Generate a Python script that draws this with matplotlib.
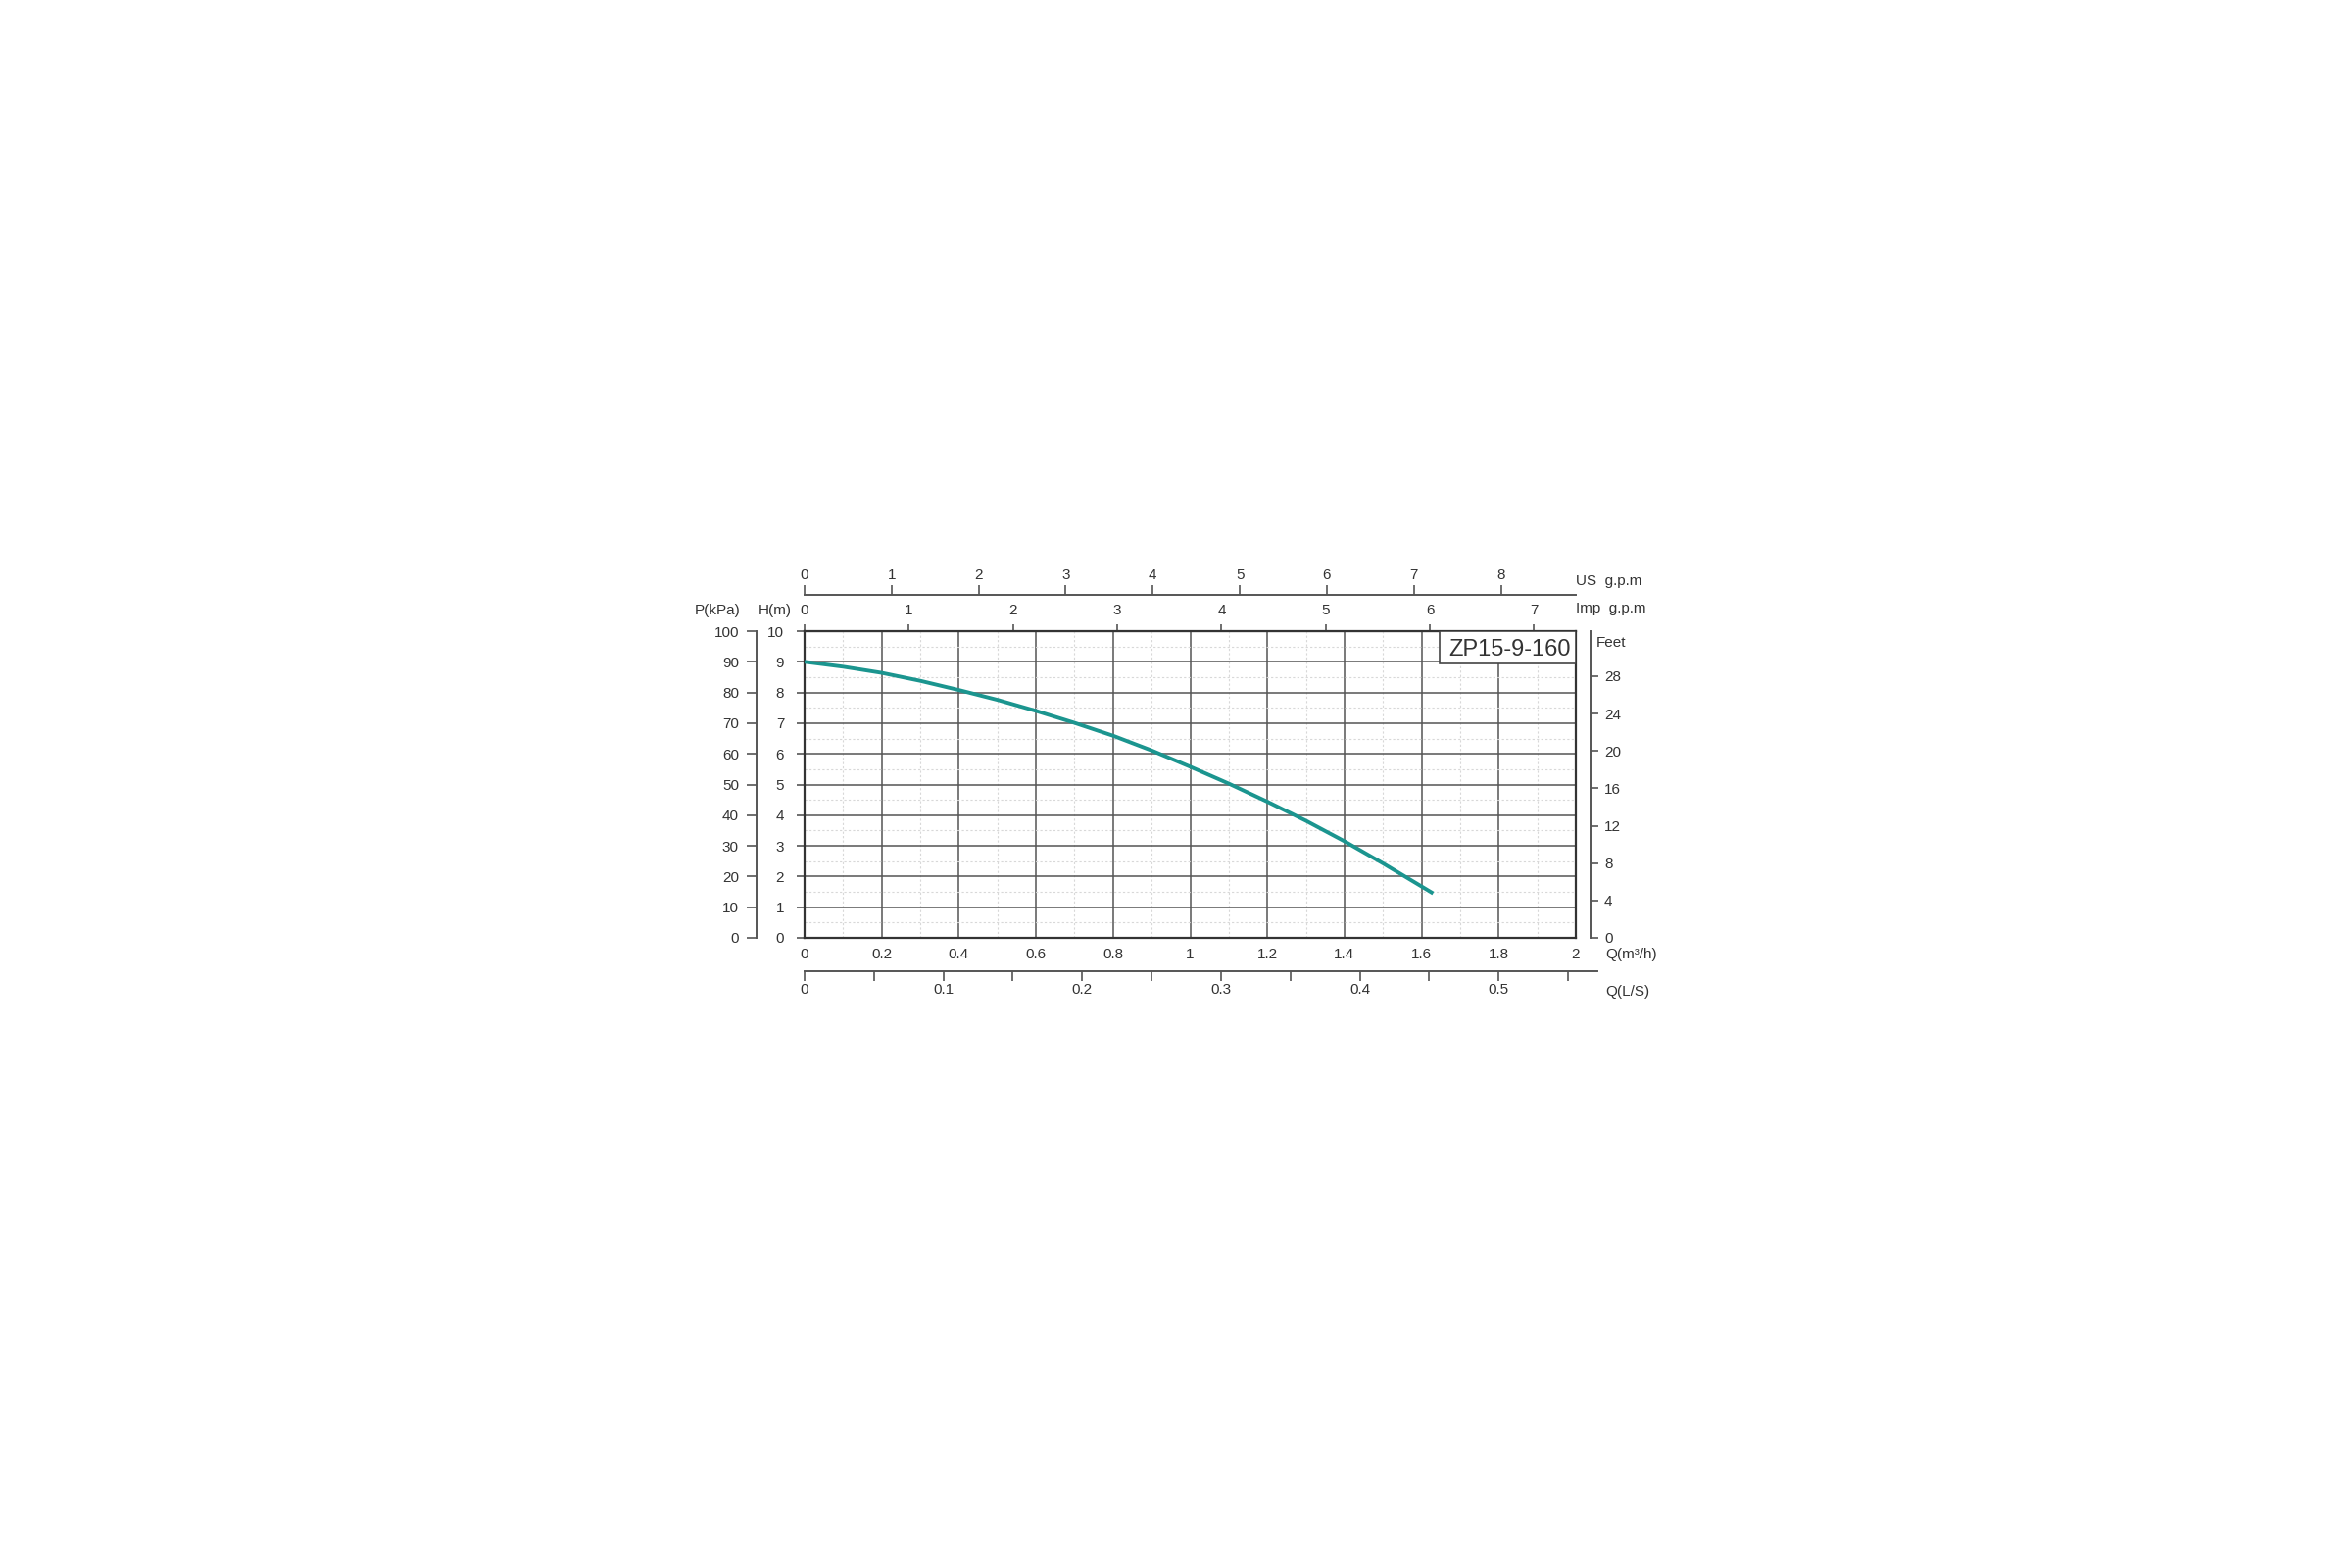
import matplotlib.pyplot as plt
from matplotlib.patches import Rectangle

plt.rcParams['font.family'] = ['Liberation Sans', 'DejaVu Sans']

# 곡선 값
q_m3h = [0, 0.1, 0.2, 0.3, 0.4, 0.5, 0.6, 0.7, 0.8, 0.9, 1.0, 1.1, 1.2, 1.3, 1.4, 1.5, 1.63]
head_m = [9.0, 8.84, 8.64, 8.38, 8.08, 7.76, 7.40, 7.01, 6.59, 6.11, 5.58, 5.03, 4.44, 3.82, 3.15, 2.43, 1.45]

# 축 눈금
q_ticks = [0, 0.2, 0.4, 0.6, 0.8, 1.0, 1.2, 1.4, 1.6, 1.8, 2.0]
q_labels = ['0', '0.2', '0.4', '0.6', '0.8', '1', '1.2', '1.4', '1.6', '1.8', '2']
h_ticks = list(range(0, 11))
p_ticks = list(range(0, 101, 10))
ft_ticks = list(range(0, 29, 4))
us_ticks = list(range(0, 9))
imp_ticks = list(range(0, 8))
ls_major = [0, 0.1, 0.2, 0.3, 0.4, 0.5]
ls_labels = ['0', '0.1', '0.2', '0.3', '0.4', '0.5']
ls_minor = [0.05, 0.15, 0.25, 0.35, 0.45, 0.55]

# 단위 환산 (그림의 눈금 위치에 맞춤)
US = 4.43     # US gpm per m3/h
IMP = 3.70    # Imp gpm per m3/h
FT = 3.28084  # feet per m
LS = 1 / 3.6  # L/s per m3/h

model = 'ZP15-9-160'
txt = '#333333'
line_c = '#555555'
fs = 11

W, H = 2400, 1600
def fx(px):
    return px / W
def fy(py):
    return 1 - py / H

fig = plt.figure(figsize=(24, 16), dpi=100)
fig.patch.set_facecolor('white')

# 메인 축 (H-Q)
ax = fig.add_axes([fx(821), fy(957), (1608 - 821) / W, (957 - 644) / H])
ax.set_xlim(0, 2)
ax.set_ylim(0, 10)
ax.set_xticks(q_ticks)
ax.set_xticklabels(q_labels)
ax.set_yticks(h_ticks)
ax.set_xticks([x / 10 for x in range(1, 20, 2)], minor=True)
ax.set_yticks([y + 0.5 for y in range(10)], minor=True)
ax.grid(which='major', color='#555555', lw=1.1)
ax.grid(which='minor', color='#d8d8d8', lw=0.8, ls=(0, (2, 2)))
ax.set_axisbelow(True)
ax.tick_params(axis='x', which='both', length=0, pad=7, labelsize=fs, labelcolor=txt)
ax.tick_params(axis='y', which='major', direction='out', length=6, width=1.2,
               color=line_c, pad=9, labelsize=fs, labelcolor=txt)
ax.tick_params(axis='y', which='minor', length=0)
for s in ax.spines.values():
    s.set_color('#333333')
    s.set_linewidth(1.6)

ax.plot(q_m3h, head_m, color='#1b958f', lw=2.8, zorder=3, solid_capstyle='butt')

# 모델명 박스
ax.add_patch(Rectangle((0.8234, 0.8946), 0.1766, 0.1054, transform=ax.transAxes,
                       facecolor='white', edgecolor='#444444', lw=1.2, zorder=4))
ax.text(0.9136, 0.938, model, transform=ax.transAxes, ha='center', va='center',
        fontsize=17, color=txt, zorder=5)

# Imp g.p.m (위쪽)
sec_imp = ax.secondary_xaxis('top', functions=(lambda q: q * IMP, lambda g: g / IMP))
sec_imp.set_xticks(imp_ticks)
sec_imp.tick_params(direction='out', length=5, width=1.2, color=line_c, pad=5,
                    labelsize=fs, labelcolor=txt)

# US g.p.m (더 위쪽)
sec_us = ax.secondary_xaxis(1 + 37 / 313, functions=(lambda q: q * US, lambda g: g / US))
sec_us.set_xticks(us_ticks)
sec_us.tick_params(direction='out', length=7, width=1.2, color=line_c, pad=2,
                   labelsize=fs, labelcolor=txt)
for s in sec_us.spines.values():
    s.set_color(line_c)
    s.set_linewidth(1.4)

# P(kPa) (왼쪽 바깥)
sec_p = ax.secondary_yaxis(-49 / 787, functions=(lambda h: h * 10, lambda p: p / 10))
sec_p.set_yticks(p_ticks)
sec_p.tick_params(direction='out', length=7, width=1.2, color=line_c, pad=6,
                  labelsize=fs, labelcolor=txt)
for s in sec_p.spines.values():
    s.set_color(line_c)
    s.set_linewidth(1.4)

# Feet (오른쪽)
sec_ft = ax.secondary_yaxis(1 + 15 / 787, functions=(lambda h: h * FT, lambda f: f / FT))
sec_ft.set_yticks(ft_ticks)
sec_ft.tick_params(direction='out', length=6, width=1.2, color=line_c, pad=4,
                   labelsize=fs, labelcolor=txt)
for s in sec_ft.spines.values():
    s.set_color(line_c)
    s.set_linewidth(1.4)

# Q(L/S) (아래쪽, 따로 그린 축)
axl = fig.add_axes([fx(821), fy(991), (1630 - 821) / W, 0.0001])
axl.set_xlim(0, (1630 - 821) / 787 * 2 * LS)
axl.set_yticks([])
axl.set_xticks(ls_major)
axl.set_xticklabels(ls_labels)
axl.set_xticks(ls_minor, minor=True)
axl.tick_params(axis='x', which='both', direction='out', length=7, width=1.2,
                color=line_c, pad=2, labelsize=fs, labelcolor=txt)
for k in ['top', 'left', 'right']:
    axl.spines[k].set_visible(False)
axl.spines['bottom'].set_color(line_c)
axl.spines['bottom'].set_linewidth(1.4)
axl.patch.set_visible(False)

# 축 이름
fig.text(fx(732), fy(623), 'P(kPa)', ha='center', va='center', fontsize=fs, color=txt)
fig.text(fx(791), fy(623), 'H(m)', ha='center', va='center', fontsize=fs, color=txt)
fig.text(fx(1608), fy(593), 'US  g.p.m', ha='left', va='center', fontsize=fs, color=txt)
fig.text(fx(1608), fy(621), 'Imp  g.p.m', ha='left', va='center', fontsize=fs, color=txt)
fig.text(fx(1629), fy(656), 'Feet', ha='left', va='center', fontsize=fs, color=txt)
fig.text(fx(1638), fy(974), 'Q(m³/h)', ha='left', va='center', fontsize=fs, color=txt)
fig.text(fx(1638), fy(1012), 'Q(L/S)', ha='left', va='center', fontsize=fs, color=txt)

fig.savefig('out.png', dpi=100, facecolor='white')
